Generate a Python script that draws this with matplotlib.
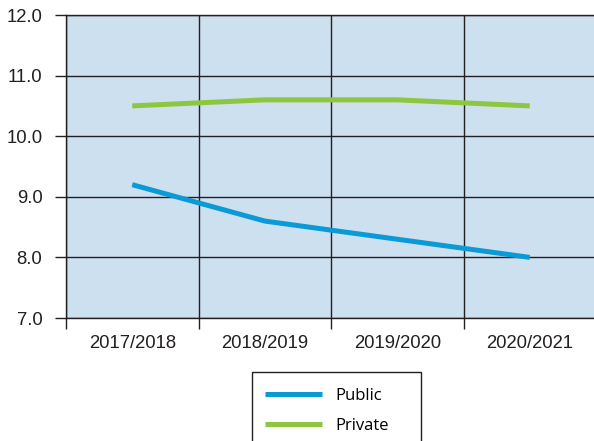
import numpy as np
import matplotlib.pyplot as plt
from matplotlib.lines import Line2D
from matplotlib.patches import Rectangle

# school years and average class sizes
years = ["2017/2018", "2018/2019", "2019/2020", "2020/2021"]
public = [9.2, 8.6, 8.3, 8.0]
private = [10.5, 10.6, 10.6, 10.5]

blue = "#0a9ad6"
green = "#8dc63f"
dark = "#231f20"

plt.rcParams['font.family'] = ['Liberation Sans', 'DejaVu Sans']

fig = plt.figure(figsize=(5.94, 4.41), dpi=100)
ax = fig.add_axes([66 / 594, 1 - 318 / 441, 530 / 594, 303 / 441])
ax.set_facecolor("#cde0ef")

x = np.arange(len(years))
ax.plot(x, public, color=blue, lw=3.6, solid_capstyle='butt', zorder=3, label="Public")
ax.plot(x, private, color=green, lw=3.6, solid_capstyle='butt', zorder=3, label="Private")

ax.set_xlim(-0.5, len(years) - 0.5)
ax.set_ylim(7, 12)

# boundaries between years get the grid lines and ticks, centres get the labels
ax.set_xticks(np.arange(len(years) + 1) - 0.5)
ax.set_xticklabels([])
ax.set_xticks(x, minor=True)
ax.set_xticklabels(years, minor=True, fontsize=13.3, color=dark)
ax.tick_params(axis='x', which='major', length=8, width=1.0, color=dark, direction='out')
ax.tick_params(axis='x', which='minor', length=0, pad=12)

ax.set_yticks(np.arange(7, 13))
ax.set_yticklabels([f"{v:.1f}" for v in np.arange(7, 13)], fontsize=13.3, color=dark)
ax.tick_params(axis='y', length=8, width=1.0, color=dark, pad=9)

ax.grid(True, which='major', color=dark, lw=1.0)
ax.set_axisbelow(True)
for side in ['left', 'bottom', 'top']:
    ax.spines[side].set_color(dark)
    ax.spines[side].set_linewidth(1.0)
ax.spines['right'].set_visible(False)

# legend box below the chart, running off the bottom edge
fig.patches.append(Rectangle((252 / 594, -0.05), 169 / 594, 0.05 + (441 - 372) / 441,
                             transform=fig.transFigure, fill=False, ec=dark, lw=1.0))
handles = [Line2D([], [], color=blue, lw=3.6, solid_capstyle='butt'),
           Line2D([], [], color=green, lw=3.6, solid_capstyle='butt')]
fig.legend(handles, ["Public", "Private"], loc='upper left',
           bbox_to_anchor=(250 / 594, 1 - 373 / 441), frameon=False,
           handlelength=3.4, handletextpad=0.85, labelspacing=0.85,
           prop={'family': ['Open Sans', 'DejaVu Sans'], 'size': 12})

fig.savefig("out.png", dpi=100)
